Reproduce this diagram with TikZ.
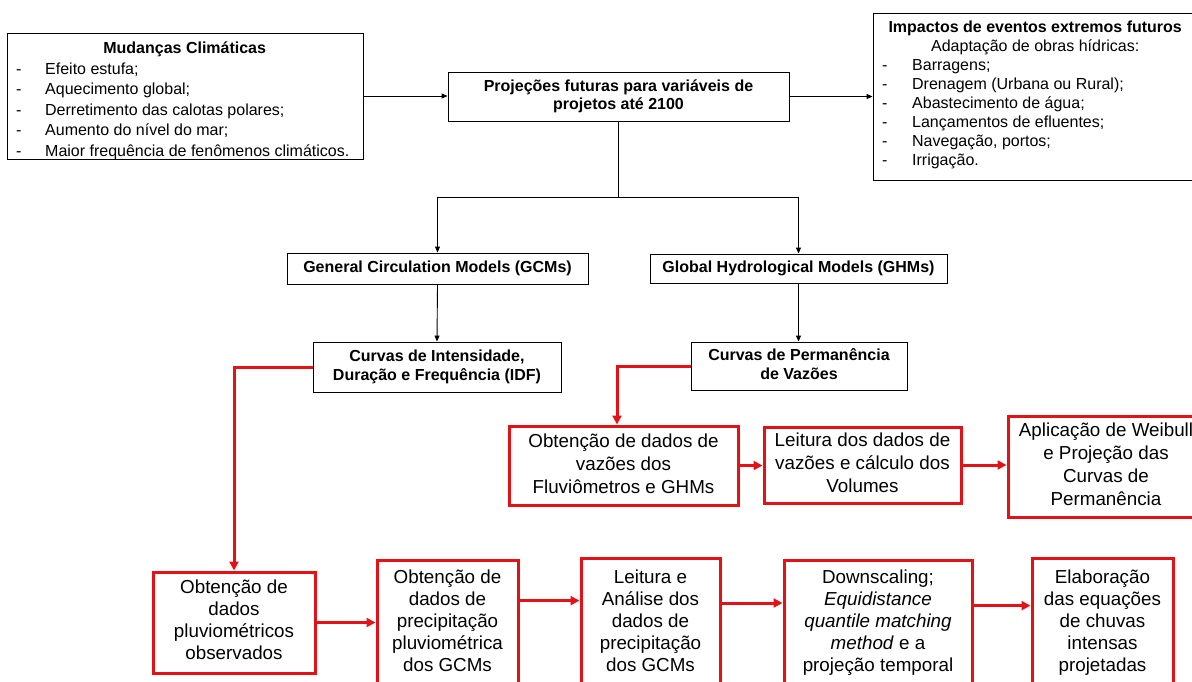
\documentclass[tikz,border=0pt]{standalone}
\usepackage{fontspec}
\setmainfont{Liberation Sans}
\usetikzlibrary{arrows.meta}
\definecolor{rd}{RGB}{228,18,22}
\newcommand{\mydashA}{\makebox[29pt][l]{-}}
\newcommand{\mydashB}{\makebox[30pt][l]{-}}
\begin{document}
\begin{tikzpicture}[x=1pt,y=-1pt,
  bbox/.style={draw=black, line width=0.9pt, inner sep=0pt, align=center,
    font=\fontsize{16}{18}\selectfont\bfseries},
  listtxt/.style={inner sep=0pt, align=left},
  rbox/.style={draw=rd, line width=3pt, inner sep=0pt, align=center,
    font=\fontsize{18.8}{22}\selectfont},
  blk/.style={line width=0.9pt, -{Triangle[length=6pt,width=5pt]}},
  rarr/.style={draw=rd, line width=3pt, -{Triangle[length=9pt,width=9pt]}}]
\useasboundingbox (0,0) rectangle (1192,681);
\clip (0,0) rectangle (1192,681);
\fill[white] (0,0) rectangle (1192,681);

% top row
\node[bbox, minimum width=355.3pt, minimum height=126pt] (mud) at (185.35,96) {};
\node[listtxt, anchor=north west, font=\fontsize{16}{20.5}\selectfont] (mudtxt) at (16,39.3) {%
\strut\makebox[337pt]{\bfseries Mudanças Climáticas}\\
\mydashA Efeito estufa;\\
\mydashA Aquecimento global;\\
\mydashA Derretimento das calotas polares;\\
\mydashA Aumento do nível do mar;\\
\mydashA Maior frequência de fenômenos climáticos.};

\node[bbox, minimum width=341pt, minimum height=49pt] (proj) at (618.5,96.5)
  {\strut Projeções futuras para variáveis de\\projetos até 2100\strut};

\node[bbox, minimum width=324pt, minimum height=167pt] (imp) at (1035,96.5) {};
\node[listtxt, anchor=north west, font=\fontsize{16}{19}\selectfont] (imptxt) at (882,19.4) {%
\strut\makebox[306pt]{\bfseries Impactos de eventos extremos futuros}\\
\makebox[306pt]{Adaptação de obras hídricas:}\\
\mydashB Barragens;\\
\mydashB Drenagem (Urbana ou Rural);\\
\mydashB Abastecimento de água;\\
\mydashB Lançamentos de efluentes;\\
\mydashB Navegação, portos;\\
\mydashB Irrigação.};

% models
\node[bbox, minimum width=301pt, minimum height=31pt] (gcm) at (437.5,268.5)
  {\strut General Circulation Models (GCMs)\strut};
\node[bbox, minimum width=297pt, minimum height=29pt] (ghm) at (798.5,268.5)
  {\strut Global Hydrological Models (GHMs)\strut};

\node[bbox, minimum width=248pt, minimum height=50pt, font=\fontsize{16}{19}\selectfont\bfseries] (idf) at (437,367)
  {\strut Curvas de Intensidade,\\Duração e Frequência (IDF)\strut};
\node[bbox, minimum width=216pt, minimum height=48pt, font=\fontsize{16}{19}\selectfont\bfseries] (perm) at (799,366)
  {\strut Curvas de Permanência\\de Vazões\strut};

% red top row
\node[rbox, minimum width=229pt, minimum height=79pt, font=\fontsize{18.8}{23}\selectfont] (A) at (623.5,465.5)
  {\strut Obtenção de dados de\\vazões dos\\Fluviômetros e GHMs\strut};
\node[rbox, minimum width=197pt, minimum height=76pt, font=\fontsize{18.8}{23}\selectfont] (B) at (862.5,465)
  {\strut Leitura dos dados de\\vazões e cálculo dos\\Volumes\strut};
\node[rbox, minimum width=196pt, minimum height=101pt, font=\fontsize{18.8}{23}\selectfont] (C) at (1106,466.5)
  {\strut Aplicação de Weibull\\e Projeção das\\Curvas de\\Permanência\strut};

% red bottom row
\node[rbox, minimum width=162pt, minimum height=101pt] (D) at (234,622.5)
  {\strut Obtenção de\\dados\\pluviométricos\\observados\strut};
\node[rbox, minimum width=141pt, minimum height=125pt] (E) at (447.5,622.6)
  {\strut Obtenção de\\dados de\\precipitação\\pluviométrica\\dos GCMs\strut};
\node[rbox, minimum width=139pt, minimum height=129pt] (F) at (650.5,622.6)
  {\strut Leitura e\\Análise dos\\dados de\\precipitação\\dos GCMs\strut};
\node[rbox, minimum width=188pt, minimum height=125pt] (G) at (878,622.6)
  {\strut Downscaling;\\\textit{Equidistance}\\\textit{quantile matching}\\\textit{method} e a\\projeção temporal\strut};
\node[rbox, minimum width=141pt, minimum height=129pt] (H) at (1102.5,622.6)
  {\strut Elaboração\\das equações\\de chuvas\\intensas\\projetadas\strut};

% black connectors
\draw[blk] (mud.east) -- (mud.east -| proj.west);
\draw[blk] (proj.east) -- (proj.east -| imp.west);
\coordinate (junc) at (618.5,197);
\draw[line width=0.9pt] (proj.south) -- (junc);
\draw[blk] (junc) -| (gcm.north);
\draw[blk] (junc) -| (ghm.north);
\draw[blk] (gcm.south) -- (idf.north);
\draw[blk] (ghm.south) -- (ghm.south |- perm.north);

% red connectors
\draw[rarr] (idf.west) -| (D.north);
\draw[rarr] (perm.west) -| ([xshift=-6.5pt]A.north);
\draw[rarr] (A.east) -- (A.east -| B.west);
\draw[rarr] (B.east) -- (B.east -| C.west);
\draw[rarr] (D.east) -- (D.east -| E.west);
\draw[rarr] ([yshift=22pt]E.east) -- ([yshift=22pt]F.west);
\draw[rarr] ([yshift=19.6pt]F.east) -- ([yshift=19.6pt]G.west);
\draw[rarr] ([yshift=17pt]G.east) -- ([yshift=17pt]H.west);
\end{tikzpicture}
\end{document}
